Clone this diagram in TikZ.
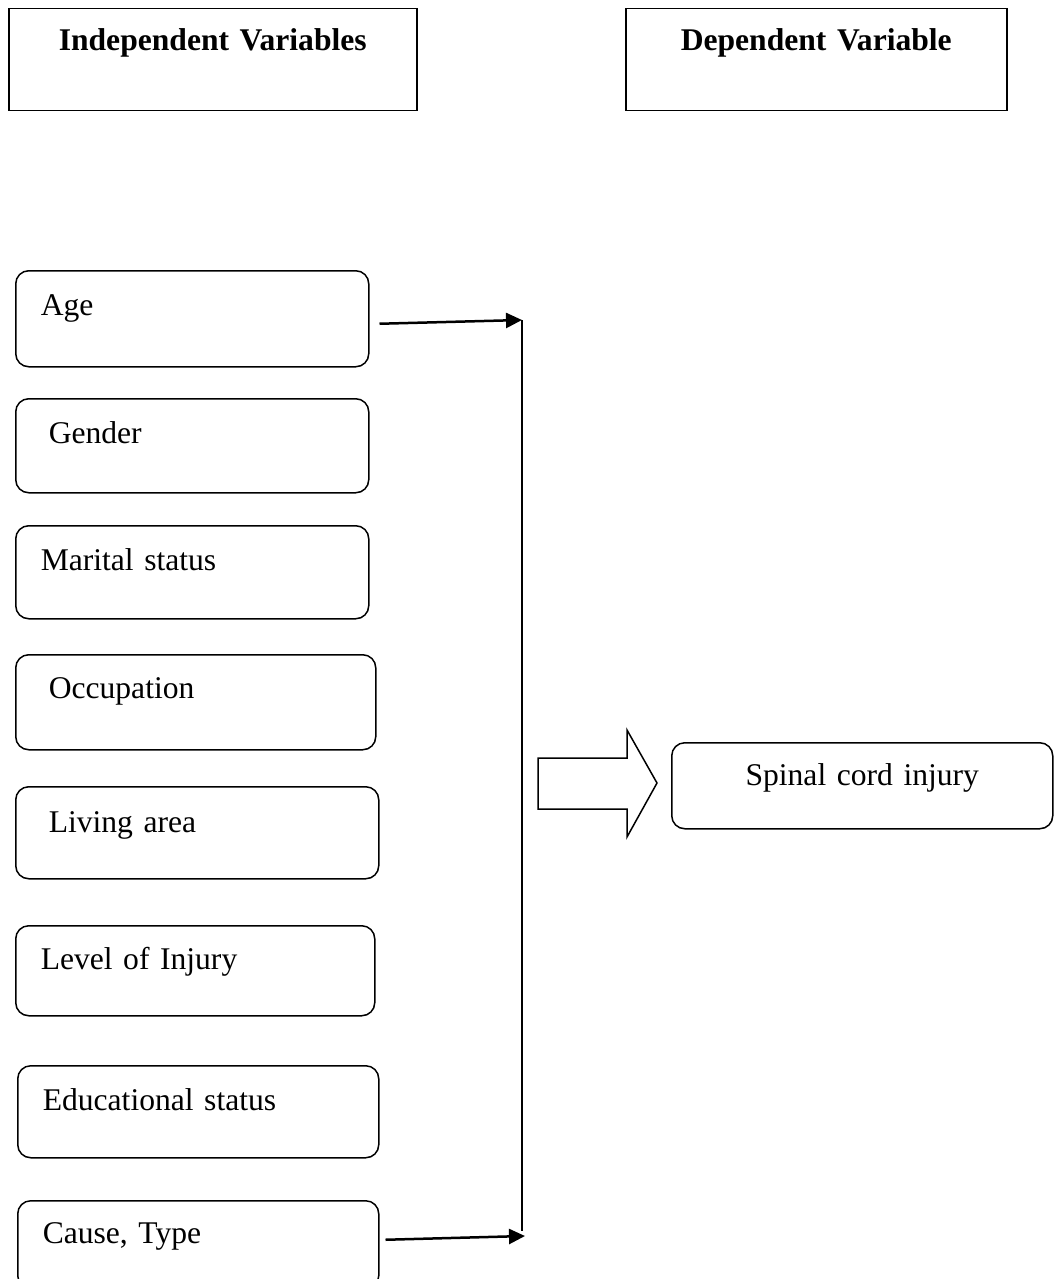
\documentclass[tikz,border=0pt]{standalone}
\usepackage{fontspec}
\setmainfont{Liberation Serif}
\usetikzlibrary{arrows.meta}

\begin{document}
\begin{tikzpicture}[x=1pt,y=-1pt,
  headbox/.style={draw, line width=1.5pt, anchor=north west, inner sep=0pt, align=center, font=\fontsize{31.6}{38}\selectfont\bfseries, text height=42pt, text depth=60pt},
  varbox/.style={draw, line width=1.5pt, rounded corners=13pt, anchor=north west, inner ysep=0pt, align=left, font=\fontsize{31.6}{38}\selectfont},
  link/.style={line width=2.5pt, -{Triangle[length=16pt,width=15pt]}}]
\useasboundingbox (0,0) rectangle (1053,1279);
% headings
\node[headbox, text width=408pt] (indep) at (8,8) {Independent Variables};
\node[headbox, text width=381pt] (dep) at (625,8) {Dependent Variable};
% variables
\node[varbox, inner xsep=25pt, text width=303pt, text height=45pt, text depth=51pt] (age) at (15,270) {Age};
\node[varbox, inner xsep=33pt, text width=287pt, text height=45pt, text depth=49pt] (gender) at (15,398) {Gender};
\node[varbox, inner xsep=25pt, text width=303pt, text height=45pt, text depth=48pt] (marital) at (15,525) {Marital status};
\node[varbox, inner xsep=33pt, text width=294pt, text height=44pt, text depth=51pt] (occup) at (15,654) {Occupation};
\node[varbox, inner xsep=33pt, text width=297pt, text height=46pt, text depth=46pt] (living) at (15,786) {Living area};
\node[varbox, inner xsep=25pt, text width=309pt, text height=44pt, text depth=46pt] (level) at (15,925) {Level of Injury};
\node[varbox, inner xsep=25pt, text width=311pt, text height=45pt, text depth=47pt] (educ) at (17,1065) {Educational status};
\node[varbox, inner xsep=25pt, text width=311pt, text height=43pt, text depth=45pt] (cause) at (17,1200) {Cause, Type};
\node[varbox, inner xsep=0pt, text width=381pt, align=center, text height=43pt, text depth=43pt] (sci) at (671,742) {Spinal cord injury};
% connectors
\coordinate (jtop) at (522,320);
\coordinate (jbot) at (525,1236);
\draw[line width=1.5pt] (jtop) -- ([yshift=5pt]jtop |- jbot);
\draw[link] ([xshift=10pt,yshift=-5pt]age.east) -- (jtop);
\draw[link] ([xshift=6pt,yshift=5pt]cause.east) -- (jbot);
\draw[line width=1.5pt] (538,758) -- (627,758) -- (627,730) -- (657,783) -- (627,837) -- (627,809) -- (538,809) -- cycle;
\end{tikzpicture}
\end{document}
